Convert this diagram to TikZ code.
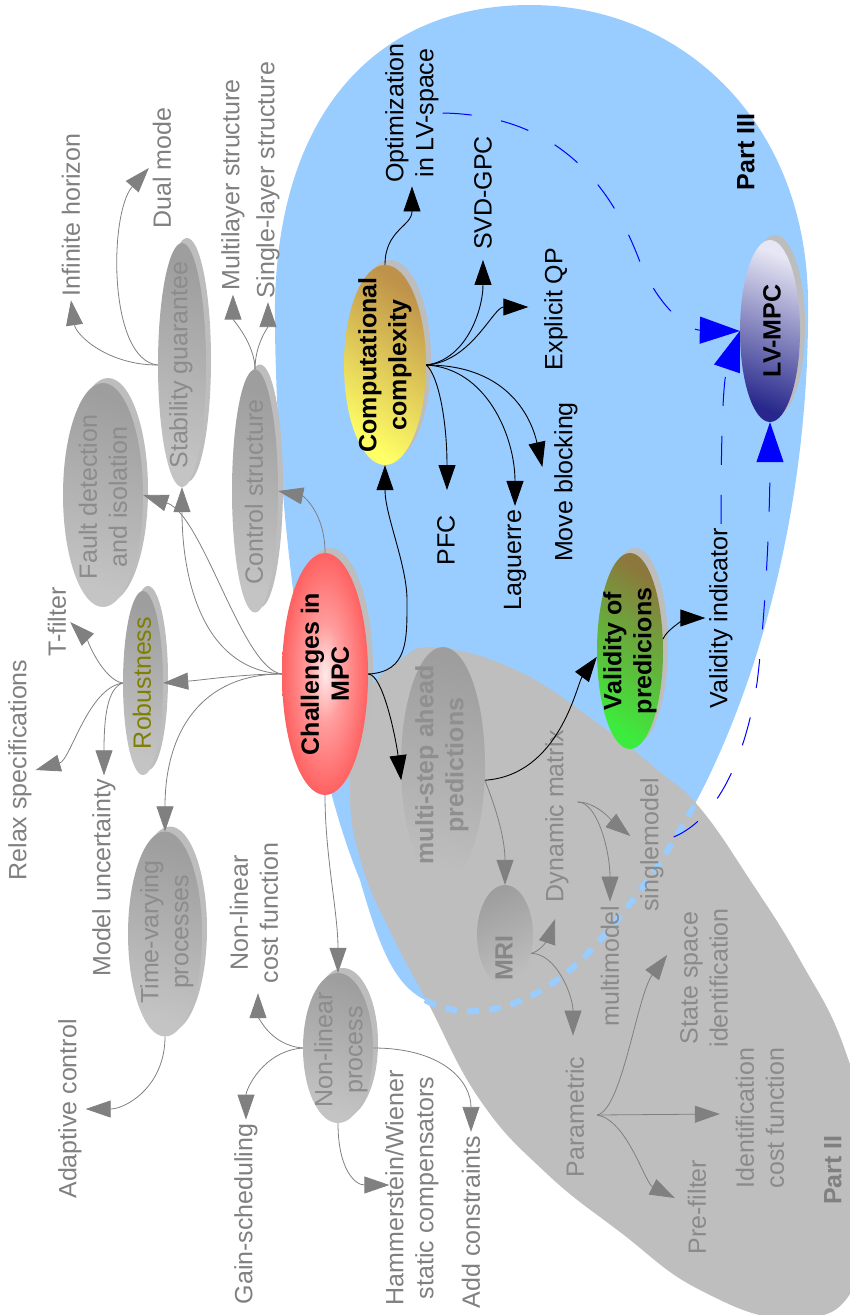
\documentclass[tikz,border=0pt]{standalone}
\usepackage{fontspec}
\setmainfont{Liberation Sans}
\usetikzlibrary{arrows.meta,shapes.geometric,shadows}
\definecolor{skyfill}{HTML}{99CCFF}
\definecolor{partgray}{HTML}{BEBEBE}
\definecolor{labgray}{HTML}{808080}
\definecolor{ingray}{HTML}{8A8A8A}
\definecolor{nodetxt}{HTML}{8C8C8C}
\definecolor{shadegray}{HTML}{BDBDBD}
\definecolor{olivetxt}{HTML}{7F7F00}
\definecolor{tan}{RGB}{190,146,74}
\definecolor{lemon}{RGB}{255,255,102}
\pgfdeclareradialshading{chalshade}{\pgfpoint{0bp}{0bp}}{color(0bp)=(white!92!red); color(10bp)=(red!38!white); color(30bp)=(red!70!white); color(45bp)=(red!80!white); color(70bp)=(red!82!white)}
\begin{document}
\begin{tikzpicture}[x=1pt,y=-1pt,
  txt/.style={rotate=90, align=center, inner sep=0pt, outer sep=4pt, font=\fontsize{25}{30}\selectfont},
  lab/.style={txt, text=labgray},
  inlab/.style={txt, text=ingray},
  blk/.style={txt, text=black},
  bnode/.style={txt, text=black, font=\fontsize{25}{30}\selectfont\bfseries},
  gtxt/.style={txt, text=nodetxt},
  oval/.style={ellipse, inner sep=0pt, draw=none},
  shad/.style={general shadow={fill=shadegray, shadow xshift=5pt, shadow yshift=5pt}},
  gnode/.style={oval, shad, top color=black!38, bottom color=black!23, shading angle=-20},
  fnode/.style={oval, top color=black!38, bottom color=partgray, shading angle=-15},
  tip/.style={-{Triangle[length=25pt,width=17pt]}},
  garr/.style={tip, draw=labgray, line width=0.8pt},
  barr/.style={tip, draw=black, line width=0.9pt},
  blarr/.style={-{Triangle[length=40pt,width=27pt]}, draw=blue, line width=1pt, dash pattern=on 29pt off 30pt}
]
\useasboundingbox (0,0) rectangle (850,1315);

% Part III area
\fill[skyfill] (697,800) .. controls (760,680) and (810,500) .. (808,300)
  .. controls (806,120) and (680,5) .. (530,5)
  .. controls (380,5) and (270,110) .. (275,330)
  .. controls (278,540) and (310,760) .. (360,880)
  .. controls (380,950) and (395,985) .. (425,1000)
  .. controls (470,1025) and (540,1010) .. (600,940)
  .. controls (640,895) and (670,850) .. cycle;

% Part II area
\fill[partgray] plot[smooth cycle, tension=0.75] coordinates {(350,790) (362,705) (400,660) (440,648) (520,672) (600,725) (660,772) (700,808) (750,880) (800,960) (845,1050) (870,1160) (855,1285) (790,1318) (700,1290) (620,1232) (545,1172) (480,1100) (428,1003) (392,935) (362,865)};

% hidden lower edge of Part III
\draw[skyfill, line width=6pt, dash pattern=on 12pt off 10pt]
  (425,1000) .. controls (470,1025) and (540,1010) .. (600,940)
  .. controls (640,895) and (670,850) .. (697,800);

% ellipses
\node[gnode, minimum width=48pt, minimum height=244pt] (stab) at (182,365) {};
\node[gnode, minimum width=46pt, minimum height=243pt] (ctrl) at (255,491) {};
\node[gnode, minimum width=80pt, minimum height=224pt] (fault) at (103,495) {};
\node[gnode, minimum width=40pt, minimum height=184pt] (rob) at (143,683) {};
\node[gnode, minimum width=74pt, minimum height=205pt] (tv) at (165,934) {};
\node[gnode, minimum width=70pt, minimum height=150pt] (nl) at (338,1048) {};
\node[fnode, minimum width=84pt, minimum height=236pt] (msa) at (443,765) {};
\node[fnode, minimum width=56pt, minimum height=100pt, shading angle=25] (mri) at (505,935) {};
\node[oval, shad, shading=chalshade, minimum width=86pt, minimum height=242pt] (chal) at (325,674) {};
\node[oval, shad, top color=tan, middle color=lemon!90!tan, bottom color=lemon, shading angle=-35, minimum width=82pt, minimum height=200pt] (comp) at (385,365) {};
\node[oval, shad, top color={rgb,255:red,140;green,120;blue,60}, middle color={rgb,255:red,74;green,210;blue,58}, bottom color={rgb,255:red,60;green,236;blue,60}, shading angle=-35, minimum width=66pt, minimum height=196pt] (val) at (630,651) {};
\node[oval, shad, top color={rgb,255:red,230;green,230;blue,244}, middle color={rgb,255:red,138;green,138;blue,196}, bottom color={rgb,255:red,40;green,40;blue,140}, shading angle=-20, minimum width=60pt, minimum height=182pt] (lv) at (770,331) {};

% labels
\node[lab] (ih) at (71,215) {Infinite horizon};
\node[lab] (dm) at (162,168) {Dual mode};
\node[lab] (mls) at (233,185) {Multilayer structure};
\node[lab] (sls) at (268,180) {Single-layer structure};
\node[lab] (tf) at (57,622) {T-filter};
\node[lab] (rs) at (20,770) {Relax specifications};
\node[lab] (mu) at (104,878) {Model uncertainty};
\node[lab] (ac) at (70,1109) {Adaptive control};
\node[lab] (nlc) at (254,913) {Non-linear\\cost function};
\node[lab] (gs) at (246,1214) {Gain-scheduling};
\node[lab] (hw) at (412,1188) {Hammerstein/Wiener\\static compensators};
\node[lab] (acs) at (471,1222) {Add constraints};
\node[inlab] (dmx) at (557,816) {Dynamic matrix};
\node[inlab] (mm) at (610,966) {multimodel};
\node[inlab] (sm) at (652,845) {singlemodel};
\node[inlab] (par) at (575,1117) {Parametric};
\node[inlab] (ssi) at (704,978) {State space\\identification};
\node[inlab] (icf) at (760,1118) {Identification\\cost function};
\node[inlab] (pf) at (697,1207) {Pre-filter};
\node[inlab, font=\fontsize{25}{30}\selectfont\bfseries, text=labgray] (p2) at (833,1170) {Part II};
\node[blk] (opt) at (412,113) {Optimization\\in LV-space};
\node[blk] (svd) at (483,193) {SVD-GPC};
\node[blk] (eqp) at (556,309) {Explicit QP};
\node[blk] (pfc) at (446,540) {PFC};
\node[blk] (lag) at (515,560) {Laguerre};
\node[blk] (mb) at (566,482) {Move blocking};
\node[blk] (vi) at (721,618) {Validity indicator};
\node[bnode] (p3) at (746,152) {Part III};

% connectors
\draw[garr] (chal.west) .. controls +(-40,0) and +(40,-3) .. (rob.east);
\draw[garr] (chal.west) .. controls +(-80,0) and +(0,-100) .. (tv.north);
\draw[garr] (chal.west) .. controls +(-80,-5) and +(0,90) .. (stab.south);
\draw[garr] (chal.west) .. controls +(-40,-5) and +(60,20) .. (fault.east);
\draw[garr] (chal.north) .. controls +(0,-40) and +(25,5) .. (ctrl.east);
\draw[garr] (chal.south) .. controls +(0,60) and +(0,-60) .. (nl.north);
\draw[barr] (chal.east) .. controls +(40,-2) and +(0,40) .. (407,600) .. controls +(0,-35) and +(0,50) .. (comp.south);
\draw[barr] (chal.east) .. controls +(15,0) and +(-5,-40) .. (msa.200);

\draw[garr] (rob.west) .. controls +(-20,-3) and +(15,15) .. (tf.south);
\draw[garr] (rob.west) .. controls +(-35,5) and +(35,-10) .. (rs.south);
\draw[garr] (rob.west) .. controls +(-15,5) and +(0,-60) .. (mu.east);
\draw[garr] (stab.west) .. controls +(-50,0) and +(5,35) .. (ih.west);
\draw[garr] (stab.west) .. controls +(-50,-5) and +(-40,45) .. (dm.north);
\draw[garr] (ctrl.north) .. controls +(0,-25) and +(0,25) .. (mls.west);
\draw[garr] (ctrl.north) .. controls +(0,-25) and +(0,25) .. (sls.west);
\draw[garr] (tv.south) .. controls +(0,50) and +(40,0) .. (ac.south);
\draw[garr] (nl.west) .. controls +(-35,-3) and +(0,20) .. ([shift={(4,6)}]nlc.west);
\draw[garr] (nl.west) .. controls +(-40,3) and +(0,-30) .. (gs.east);
\draw[garr] (nl.south) .. controls +(0,45) and +(-35,0) .. ([shift={(8,-3)}]hw.north);
\draw[garr] (nl.east) .. controls +(70,0) and +(0,-50) .. (acs.east);

\draw[barr] (msa.-20) .. controls +(75,-5) and +(-20,27) .. (val.190);
\draw[garr] (msa.-20) .. controls +(8,20) and +(0,-50) .. (mri.north);
\draw[garr] (mri.-35) .. controls +(12,-3) and +(-5,15) .. ([shift={(-2,13)}]dmx.west);
\draw[garr] (mri.-35) .. controls +(25,0) and +(0,-40) .. ([shift={(-2,-17)}]par.east);
\draw[garr] ([shift={(5,-14)}]dmx.south) .. controls +(20,0) and +(0,-50) .. (mm.east);
\draw[garr] ([shift={(5,-14)}]dmx.south) .. controls +(20,0) and +(-15,-12) .. ([shift={(-6,-9)}]sm.north);
\draw[garr] ([shift={(9,-2)}]par.south) .. controls +(25,-5) and +(-30,40) .. ([shift={(-9,-23)}]ssi.north);
\draw[garr] ([shift={(9,-2)}]par.south) -- ([shift={(-12,-4)}]icf.north);
\draw[garr] ([shift={(9,-2)}]par.south) .. controls +(30,5) and +(-30,-15) .. ([shift={(-9,-9)}]pf.north);

\draw[barr] (comp.north) .. controls +(0,-35) and +(0,40) .. (opt.west);
\draw[barr] (comp.east) .. controls +(40,-5) and +(0,50) .. ([shift={(0,6)}]svd.west);
\draw[barr] (comp.east) .. controls +(45,-3) and +(-35,0) .. ([shift={(-12,-2)}]eqp.north);
\draw[barr] (comp.east) .. controls +(12,10) and +(0,-70) .. ([shift={(1,-21)}]pfc.east);
\draw[barr] (comp.east) .. controls +(60,3) and +(0,-70) .. (lag.east);
\draw[barr] (comp.east) .. controls +(85,0) and +(-10,-45) .. ([shift={(-8,-15)}]mb.north);
\draw[barr] (val.20) .. controls +(5,-12) and +(-15,0) .. (vi.north);

\draw[blarr] (opt.south) .. controls +(113,2) and +(-30,-80) .. (640,262) .. controls +(20,48) and +(-50,-1) .. (lv.west);
\draw[blarr] (vi.east) .. controls +(0,-105) and +(-16,47) .. (lv.west);
\draw[blarr] ([shift={(6,-8)}]sm.south) .. controls +(43,-18) and +(-12,77) .. (757,683) .. controls +(8,-63) and +(0,97) .. (lv.south);

% texts inside the ellipses
\node[gtxt] (stabT) at (181,365) {Stability guarantee};
\node[gtxt] (ctrlT) at (254,492) {Control structure};
\node[gtxt] (faultT) at (103,497) {Fault detection\\and isolation};
\node[txt, text=olivetxt] (robT) at (142,683) {Robustness};
\node[gtxt] (tvT) at (167,932) {Time-varying\\processes};
\node[gtxt] (nlT) at (341,1050) {Non-linear\\process};
\node[bnode, text=black!44] (msaT) at (442,765) {multi-step ahead\\predictions};
\node[bnode, text=black!47] (mriT) at (504,958) {MRI};
\node[bnode] (chalT) at (325,674) {Challenges in\\MPC};
\node[bnode] (compT) at (385,365) {Computational\\complexity};
\node[bnode] (valT) at (630,651) {Validity of\\predicions};
\node[bnode] (lvT) at (772,331) {LV-MPC};
\end{tikzpicture}
\end{document}
